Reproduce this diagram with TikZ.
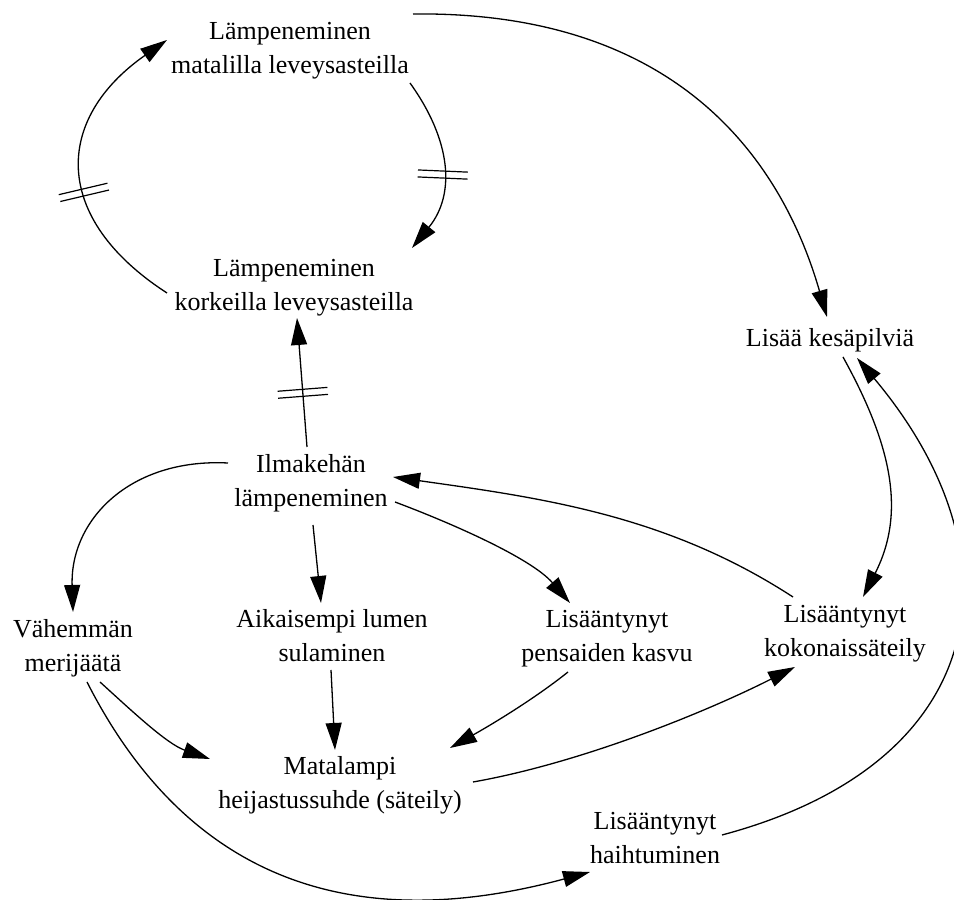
\documentclass[tikz,border=0pt]{standalone}
\usepackage{fontspec}
\setmainfont{Liberation Serif}
\usetikzlibrary{arrows.meta,calc,decorations.markings}
\begin{document}
\begin{tikzpicture}[x=1pt,y=1pt,
  lbl/.style={align=center, inner sep=2pt, font=\fontsize{26}{34}\selectfont},
  link/.style={line width=1.3pt, -{Triangle[length=27pt,width=16pt]}},
  delaybar/.style={postaction={decorate,decoration={markings,mark=at position #1 with {\draw[line width=1.2pt,-] (-3.5pt,-25pt) -- (-3.5pt,25pt) (3.5pt,-25pt) -- (3.5pt,25pt);}}}}
]
\useasboundingbox (0,0) rectangle (954,900);
\node[lbl] (mat) at (290,850) {\strut Lämpeneminen\\\strut matalilla leveysasteilla};
\node[lbl] (kor) at (294,613) {\strut Lämpeneminen\\\strut korkeilla leveysasteilla};
\node[lbl,anchor=base] (kes) at (830,553) {\strut Lisää kesäpilviä};
\node[lbl] (ilm) at (311,417) {\strut Ilmakehän\\\strut lämpeneminen};
\node[lbl] (vah) at (73,252) {\strut Vähemmän\\\strut merijäätä};
\node[lbl] (aik) at (332,262) {\strut Aikaisempi lumen\\\strut sulaminen};
\node[lbl] (pen) at (607,262) {\strut Lisääntynyt\\\strut pensaiden kasvu};
\node[lbl] (kok) at (845,267) {\strut Lisääntynyt\\\strut kokonaissäteily};
\node[lbl] (mal) at (340,115) {\strut Matalampi\\\strut heijastussuhde (säteily)};
\node[lbl] (hai) at (655,60) {\strut Lisääntynyt\\\strut haihtuminen};

\draw[link,delaybar=0.42] ($(kor)+(-127,-6)$) .. controls (51,682) and (54,781) .. ($(mat)+(-123,10)$);
\draw[link,delaybar=0.55] ($(mat)+(120,-33)$) .. controls (451,760) and (456,706) .. ($(kor)+(118,39)$);
\draw[link,delaybar=0.42] ($(ilm)+(-4,36)$) -- ($(kor)+(3,-31)$);
\draw[link] ($(mat)+(123,36)$) .. controls (663,889) and (777,756) .. ($(kes.base)+(-3,30)$);
\draw[link] ($(kes.base)+(13,-10)$) .. controls (890,458) and (907,389) .. ($(kok)+(18,36)$);
\draw[link] ($(hai)+(67,5)$) .. controls (992,137) and (1024,343) .. ($(kes.base)+(27,-11)$);
\draw[link] ($(kok)+(-52,36)$) .. controls (667,385) and (542,402) .. ($(ilm)+(82,6)$);
\draw[link] ($(ilm)+(-83,20)$) .. controls (130,442) and (70,380) .. ($(vah)+(0,36)$);
\draw[link] ($(ilm)+(2,-42)$) -- ($(aik)+(-11,35)$);
\draw[link] ($(ilm)+(84,-19)$) .. controls (451,377) and (531,342) .. ($(pen)+(-37,35)$);
\draw[link] ($(aik)+(-1,-32)$) -- ($(mal)+(-5,35)$);
\draw[link] ($(vah)+(27,-34)$) .. controls (133,188) and (167,156) .. ($(mal)+(-130,26)$);
\draw[link] ($(pen)+(-39,-34)$) .. controls (533,200) and (489,174) .. ($(mal)+(110,37)$);
\draw[link] ($(mal)+(133,3)$) .. controls (581,137) and (706,188) .. ($(kok)+(-50,-34)$);
\draw[link] ($(vah)+(14,-34)$) .. controls (205,-14) and (397,-24) .. ($(hai)+(-65,-32)$);
\end{tikzpicture}
\end{document}
